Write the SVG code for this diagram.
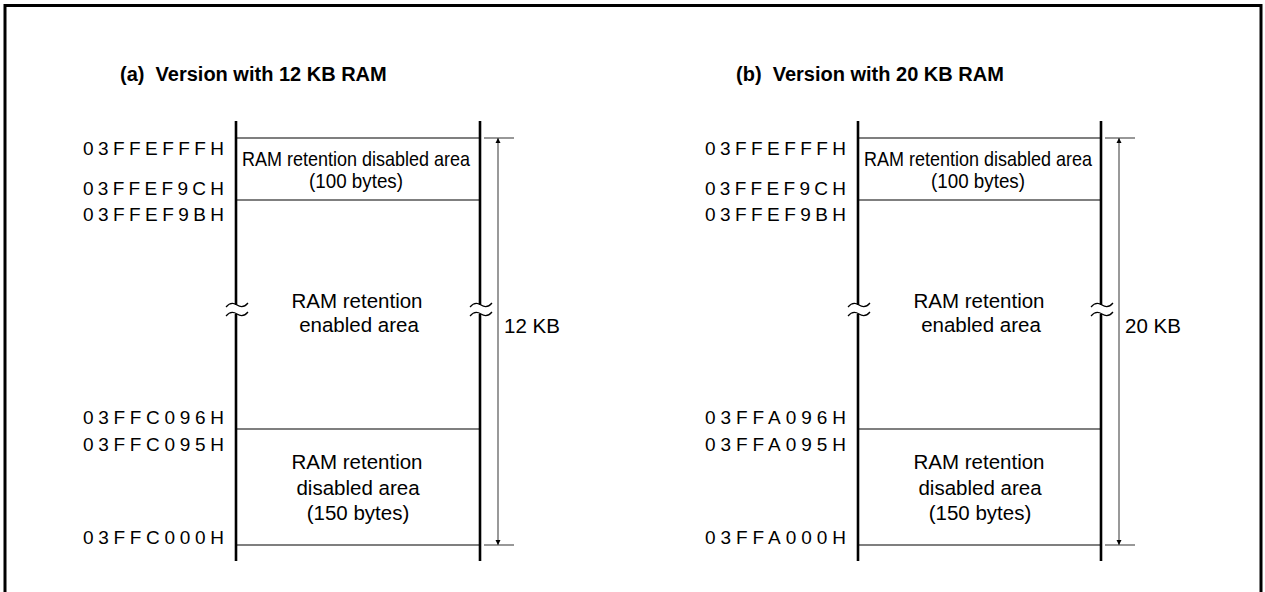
<svg xmlns="http://www.w3.org/2000/svg" width="1265" height="592" viewBox="0 0 1265 592">
<style>
text{font-family:"Liberation Sans",Arial,sans-serif;fill:#000}
.title{font-size:20px;font-weight:bold}
.addr{font-size:19px}
.body{font-size:20.5px;text-anchor:middle}
.top{font-size:21px}
.wall{stroke:#000;stroke-width:2.6;fill:none}
.hl{stroke:#000;stroke-width:1.2}
.ext{stroke:#777;stroke-width:1.4}
.dim{stroke:#555;stroke-width:1.2}
.brk{stroke:#000;stroke-width:1.2;fill:none}
</style>
<defs>
<marker id="ah" viewBox="0 0 10 10" refX="10" refY="5" markerWidth="5" markerHeight="10" markerUnits="userSpaceOnUse" orient="auto-start-reverse">
<path d="M0,0 L10,5 L0,10 Z" fill="#000"/>
</marker>
<path id="tilde" d="M-11,2 Q-6,-4 0,0 Q6,4 11,-2"/>
</defs>
<rect x="5" y="5.5" width="1256" height="600" fill="none" stroke="#000" stroke-width="3"/>

<g id="diagram-a">
<text class="title" x="120" y="81" xml:space="preserve">(a)  Version with 12 KB RAM</text>
<g id="a-addresses">
<text class="addr" x="83" y="155" textLength="141" lengthAdjust="spacing">03FFEFFFH</text>
<text class="addr" x="83" y="195" textLength="141" lengthAdjust="spacing">03FFEF9CH</text>
<text class="addr" x="83" y="221" textLength="141" lengthAdjust="spacing">03FFEF9BH</text>
<text class="addr" x="83" y="424" textLength="141" lengthAdjust="spacing">03FFC096H</text>
<text class="addr" x="83" y="451" textLength="141" lengthAdjust="spacing">03FFC095H</text>
<text class="addr" x="83" y="544" textLength="141" lengthAdjust="spacing">03FFC000H</text>
</g>
<g id="a-memory">
<path class="wall" d="M236,121 V305 M236,314 V561 M480,121 V305 M480,314 V561"/>
<use href="#tilde" x="237" y="305" class="brk"/>
<use href="#tilde" x="237" y="314" class="brk"/>
<use href="#tilde" x="481" y="305" class="brk"/>
<use href="#tilde" x="481" y="314" class="brk"/>
<path class="hl" d="M236,138 H480 M236,200 H480 M236,429 H480 M236,545 H480"/>
</g>
<g id="a-top">
<text class="top" x="242" y="166" textLength="228" lengthAdjust="spacingAndGlyphs">RAM retention disabled area</text>
<text class="body" x="356" y="188" textLength="94" lengthAdjust="spacingAndGlyphs">(100 bytes)</text>
</g>
<g id="a-mid">
<text class="body" x="357" y="308">RAM retention</text>
<text class="body" x="359" y="332">enabled area</text>
</g>
<g id="a-bottom">
<text class="body" x="357" y="469">RAM retention</text>
<text class="body" x="358" y="495">disabled area</text>
<text class="body" x="358" y="520">(150 bytes)</text>
</g>
<text class="body" x="532" y="333">12 KB</text>
</g>

<g id="diagram-b">
<text class="title" x="736" y="81" xml:space="preserve">(b)  Version with 20 KB RAM</text>
<g id="b-addresses">
<text class="addr" x="705" y="155" textLength="141" lengthAdjust="spacing">03FFEFFFH</text>
<text class="addr" x="705" y="195" textLength="141" lengthAdjust="spacing">03FFEF9CH</text>
<text class="addr" x="705" y="221" textLength="141" lengthAdjust="spacing">03FFEF9BH</text>
<text class="addr" x="705" y="424" textLength="141" lengthAdjust="spacing">03FFA096H</text>
<text class="addr" x="705" y="451" textLength="141" lengthAdjust="spacing">03FFA095H</text>
<text class="addr" x="705" y="544" textLength="141" lengthAdjust="spacing">03FFA000H</text>
</g>
<g id="b-memory">
<path class="wall" d="M858,121 V305 M858,314 V561 M1101,121 V305 M1101,314 V561"/>
<use href="#tilde" x="859" y="305" class="brk"/>
<use href="#tilde" x="859" y="314" class="brk"/>
<use href="#tilde" x="1102" y="305" class="brk"/>
<use href="#tilde" x="1102" y="314" class="brk"/>
<path class="hl" d="M858,138 H1101 M858,200 H1101 M858,429 H1101 M858,545 H1101"/>
</g>
<g id="b-top">
<text class="top" x="864" y="166" textLength="228" lengthAdjust="spacingAndGlyphs">RAM retention disabled area</text>
<text class="body" x="978" y="188" textLength="94" lengthAdjust="spacingAndGlyphs">(100 bytes)</text>
</g>
<g id="b-mid">
<text class="body" x="979" y="308">RAM retention</text>
<text class="body" x="981" y="332">enabled area</text>
</g>
<g id="b-bottom">
<text class="body" x="979" y="469">RAM retention</text>
<text class="body" x="980" y="495">disabled area</text>
<text class="body" x="980" y="520">(150 bytes)</text>
</g>
<text class="body" x="1153" y="333">20 KB</text>
</g>

<g id="connectors">
<path class="ext" d="M484,138 H514 M484,545 H514 M1105,138 H1135 M1105,545 H1135"/>
<line class="dim" x1="498" y1="545" x2="498" y2="138" marker-end="url(#ah)" marker-start="url(#ah)"/>
<line class="dim" x1="1119" y1="545" x2="1119" y2="138" marker-end="url(#ah)" marker-start="url(#ah)"/>
</g>
</svg>
